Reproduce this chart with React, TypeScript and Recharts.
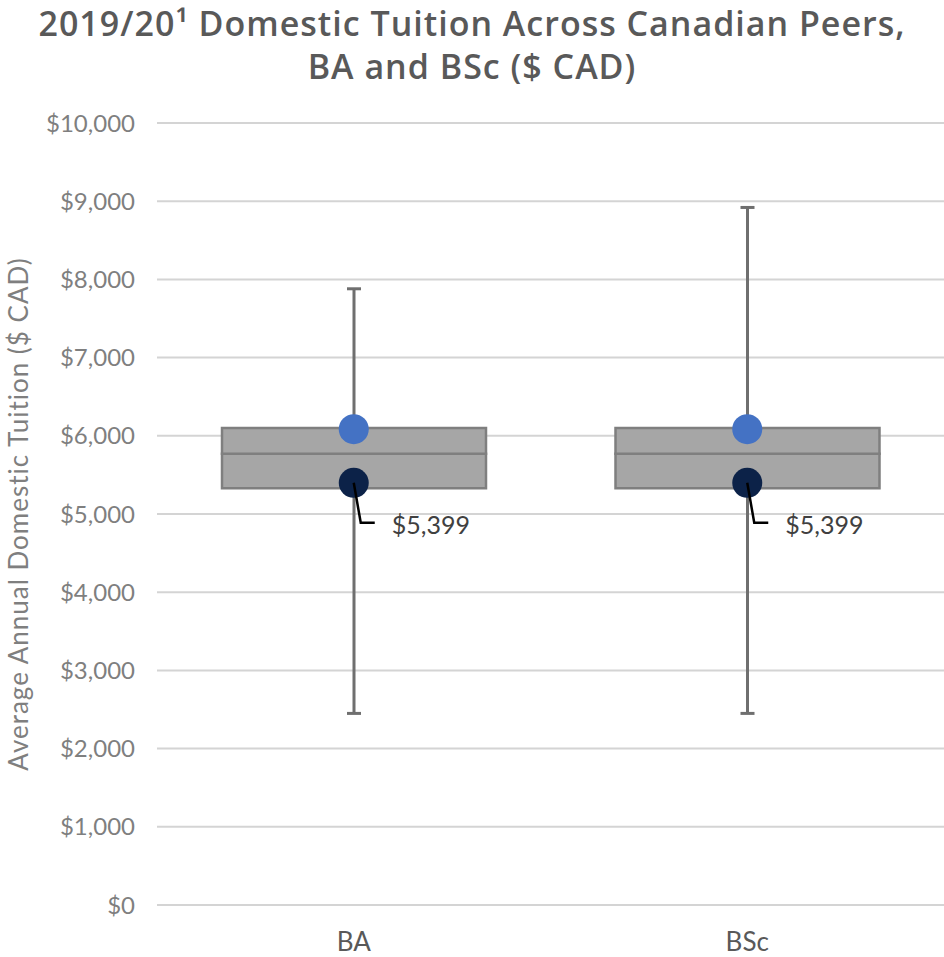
import {
  Bar,
  CartesianGrid,
  ComposedChart,
  Scatter,
  XAxis,
  YAxis,
} from 'recharts';

const categories = ['BA', 'BSc'];
const minValues = [2450, 2450];
const q1Values = [5330, 5330];
const medianValues = [5770, 5770];
const q3Values = [6100, 6100];
const maxValues = [7880, 8920];
const meanValues = [6085, 6085];
const markerValues = [5399, 5399];
const yTicks = [0, 1000, 2000, 3000, 4000, 5000, 6000, 7000, 8000, 9000, 10000];

const rows = categories.map((name, i) => ({
  name,
  base: q1Values[i],
  lower: medianValues[i] - q1Values[i],
  upper: q3Values[i] - medianValues[i],
  whisker: [minValues[i], maxValues[i]],
  mean: meanValues[i],
  marker: markerValues[i],
}));

const font = 'Lato, "Open Sans", sans-serif';

function money(v: number): string {
  return '$' + v.toLocaleString('en-US');
}

function Whisker(props: any) {
  const { x, y, width, height } = props;
  const cx = x + width / 2;
  return (
    <g stroke="#6f6f6f" strokeWidth={3}>
      <line x1={cx} x2={cx} y1={y} y2={y + height} />
      <line x1={cx - 7} x2={cx + 7} y1={y} y2={y} />
      <line x1={cx - 7} x2={cx + 7} y1={y + height} y2={y + height} />
    </g>
  );
}

function MeanDot(props: any) {
  return <circle cx={props.cx} cy={props.cy} r={15} fill="#4472c4" />;
}

function MarkerDot(props: any) {
  const { cx, cy, payload } = props;
  return (
    <g>
      <circle cx={cx} cy={cy} r={15} fill="#0c2248" />
      <polyline
        points={`${cx},${cy} ${cx + 7},${cy + 40} ${cx + 21},${cy + 40}`}
        fill="none"
        stroke="#000"
        strokeWidth={2.5}
      />
      <text
        x={cx + 38}
        y={cy + 41}
        dominantBaseline="central"
        fontFamily={font}
        fontSize={25}
        fill="#404040"
      >
        {money(payload.marker)}
      </text>
    </g>
  );
}

export default function App() {
  return (
    <div style={{ position: 'absolute', left: 0, top: 0, width: 944, height: 957, background: '#fff' }}>
      <div
        style={{
          position: 'absolute',
          left: 0,
          top: 2,
          width: 944,
          textAlign: 'center',
          fontFamily: '"Open Sans", Lato, sans-serif',
          fontWeight: 600,
          fontSize: 34,
          letterSpacing: 1,
          lineHeight: '43px',
          color: '#595959',
        }}
      >
        2019/20¹ Domestic Tuition Across Canadian Peers,
        <br />
        BA and BSc ($ CAD)
      </div>
      <ComposedChart
        width={944}
        height={957}
        data={rows}
        margin={{ top: 123, right: 0, bottom: 12, left: 0 }}
      >
        <CartesianGrid vertical={false} stroke="#d4d4d4" strokeWidth={2} />
        <XAxis
          xAxisId="main"
          dataKey="name"
          axisLine={false}
          tickLine={false}
          tickMargin={22}
          height={40}
          tick={{ fontFamily: font, fontSize: 26, fill: '#595959' }}
        />
        <XAxis xAxisId="w" dataKey="name" hide />
        <YAxis
          domain={[0, 10000]}
          ticks={yTicks}
          width={157}
          axisLine={false}
          tickLine={false}
          tickSize={0}
          tickMargin={22}
          tickFormatter={money}
          tick={{ fontFamily: font, fontSize: 24, fill: '#7f7f7f' }}
          label={{
            value: 'Average Annual Domestic Tuition ($ CAD)',
            angle: -90,
            position: 'insideLeft',
            offset: 19,
            style: { fontFamily: font, fontSize: 26, letterSpacing: 1, fill: '#7f7f7f', textAnchor: 'middle' },
          }}
        />
        <Bar xAxisId="w" dataKey="whisker" barSize={20} shape={<Whisker />} isAnimationActive={false} />
        <Bar xAxisId="main" dataKey="base" stackId="box" fill="none" barSize={264} isAnimationActive={false} />
        <Bar
          xAxisId="main"
          dataKey="lower"
          stackId="box"
          fill="#a6a6a6"
          stroke="#7f7f7f"
          strokeWidth={2.5}
          barSize={264}
          isAnimationActive={false}
        />
        <Bar
          xAxisId="main"
          dataKey="upper"
          stackId="box"
          fill="#a6a6a6"
          stroke="#7f7f7f"
          strokeWidth={2.5}
          barSize={264}
          isAnimationActive={false}
        />
        <Scatter xAxisId="main" dataKey="mean" shape={<MeanDot />} isAnimationActive={false} />
        <Scatter xAxisId="main" dataKey="marker" shape={<MarkerDot />} isAnimationActive={false} />
      </ComposedChart>
    </div>
  );
}
